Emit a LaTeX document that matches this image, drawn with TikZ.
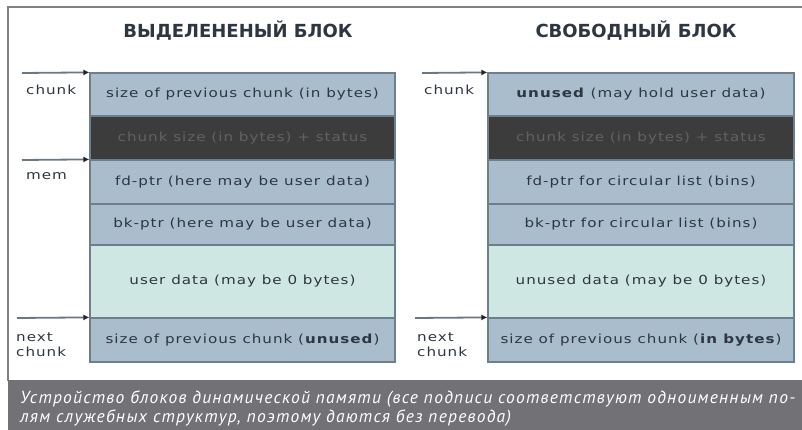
\documentclass[tikz,border=0pt]{standalone}
\usepackage{fontspec}
\usetikzlibrary{arrows.meta}
\newfontfamily\boxfont[FakeStretch=1.21,LetterSpace=8]{DejaVu Sans}
\newfontfamily\titlefont{DejaVu Sans}
\newfontfamily\capfont[LetterSpace=7]{PT Sans}
\definecolor{rowblue}{HTML}{A9BDCC}
\definecolor{rowdark}{HTML}{3C3C3C}
\definecolor{rowlight}{HTML}{CFE7E3}
\definecolor{bordc}{HTML}{6D7F8D}
\definecolor{txtc}{HTML}{2E3640}
\definecolor{dtxt}{HTML}{626262}
\definecolor{capband}{HTML}{727276}
\definecolor{framec}{HTML}{808080}
\definecolor{ptrc}{HTML}{6A7884}
\definecolor{tipc}{HTML}{20262C}
\tikzset{
  row/.style={draw=bordc, line width=1.2pt, inner sep=0pt, text=txtc,
    font=\boxfont\fontsize{12.5}{14}\selectfont},
  lrow/.style={row, minimum width=305pt},
  rrow/.style={row, minimum width=306pt},
  blue/.style={fill=rowblue},
  dark/.style={fill=rowdark, text=dtxt},
  light/.style={fill=rowlight},
  ptr/.style={draw=ptrc, line width=1.8pt, -{Latex[length=6pt,width=6pt,color=tipc]}},
  lbl/.style={text=txtc, font=\boxfont\fontsize{12.5}{13}\selectfont, inner sep=0pt, align=left},
  ttl/.style={text=txtc, font=\titlefont\bfseries\fontsize{18}{20}\selectfont},
}
\begin{document}
\begin{tikzpicture}[x=1pt,y=-1pt]
\useasboundingbox (0,0) rectangle (802,430);
\fill[white] (0,0) rectangle (802,430);
% frame
\draw[framec, line width=1.5pt] (802,7) -- (8,7) -- (8,381);
% caption band
\fill[capband] (8,380) rectangle (802,430);
\node[anchor=base west, inner sep=0pt, text=white, align=left,
  font=\capfont\itshape\fontsize{17.5}{20}\selectfont] (cap1) at (20,403)
  {Устройство блоков динамической памяти (все подписи соответствуют одноименным по-};
\node[anchor=base west, inner sep=0pt, text=white, align=left,
  font=\capfont\itshape\fontsize{17.5}{20}\selectfont] (cap2) at (20,422)
  {лям служебных структур, поэтому даются без перевода)};
% titles
\node[ttl] (t1) at (238,31) {ВЫДЕЛЕНЕНЫЙ БЛОК};
\node[ttl] (t2) at (636,31) {СВОБОДНЫЙ БЛОК};
% left block
\node[lrow, blue, minimum height=43pt] (L1) at (242.5,94.5) {size of previous chunk (in bytes)};
\node[lrow, dark, minimum height=44pt] (L2) at (242.5,138) {chunk size (in bytes) + status};
\node[lrow, blue, minimum height=44pt] (L3) at (242.5,182) {fd-ptr (here may be user data)};
\node[lrow, blue, minimum height=41pt] (L4) at (242.5,224.5) {bk-ptr (here may be user data)};
\node[lrow, light, minimum height=73pt] (L5) at (242.5,281.5) {user data (may be 0 bytes)};
\node[lrow, blue, minimum height=44pt] (L6) at (242.5,340) {size of previous chunk (\textbf{unused})};
% right block
\node[rrow, blue, minimum height=43pt] (R1) at (641,94.5) {\textbf{unused} (may hold user data)};
\node[rrow, dark, minimum height=44pt] (R2) at (641,138) {chunk size (in bytes) + status};
\node[rrow, blue, minimum height=44pt] (R3) at (641,182) {fd-ptr for circular list (bins)};
\node[rrow, blue, minimum height=41pt] (R4) at (641,224.5) {bk-ptr for circular list (bins)};
\node[rrow, light, minimum height=73pt] (R5) at (641,281.5) {unused data (may be 0 bytes)};
\node[rrow, blue, minimum height=44pt] (R6) at (641,340) {size of previous chunk (\textbf{in bytes})};
% pointers left
\coordinate (lc) at (22,73);
\coordinate (lm) at (22,160);
\coordinate (ln) at (17,318);
\draw[ptr] (lc) -- (L1.north west);
\draw[ptr] (lm) -- (L3.north west);
\draw[ptr] (ln) -- (L6.north west);
\node[lbl, anchor=west] (lcl) at (26,90) {chunk};
\node[lbl, anchor=west] (lml) at (26,176) {mem};
\node[lbl, anchor=north west] (lnl) at (16,333) {next\\[2pt]chunk};
% pointers right
\coordinate (rc) at (422,73);
\coordinate (rn) at (415,318);
\draw[ptr] (rc) -- (R1.north west);
\draw[ptr] (rn) -- (R6.north west);
\node[lbl, anchor=west] (rcl) at (424,90) {chunk};
\node[lbl, anchor=north west] (rnl) at (417,333) {next\\[2pt]chunk};
\end{tikzpicture}
\end{document}
